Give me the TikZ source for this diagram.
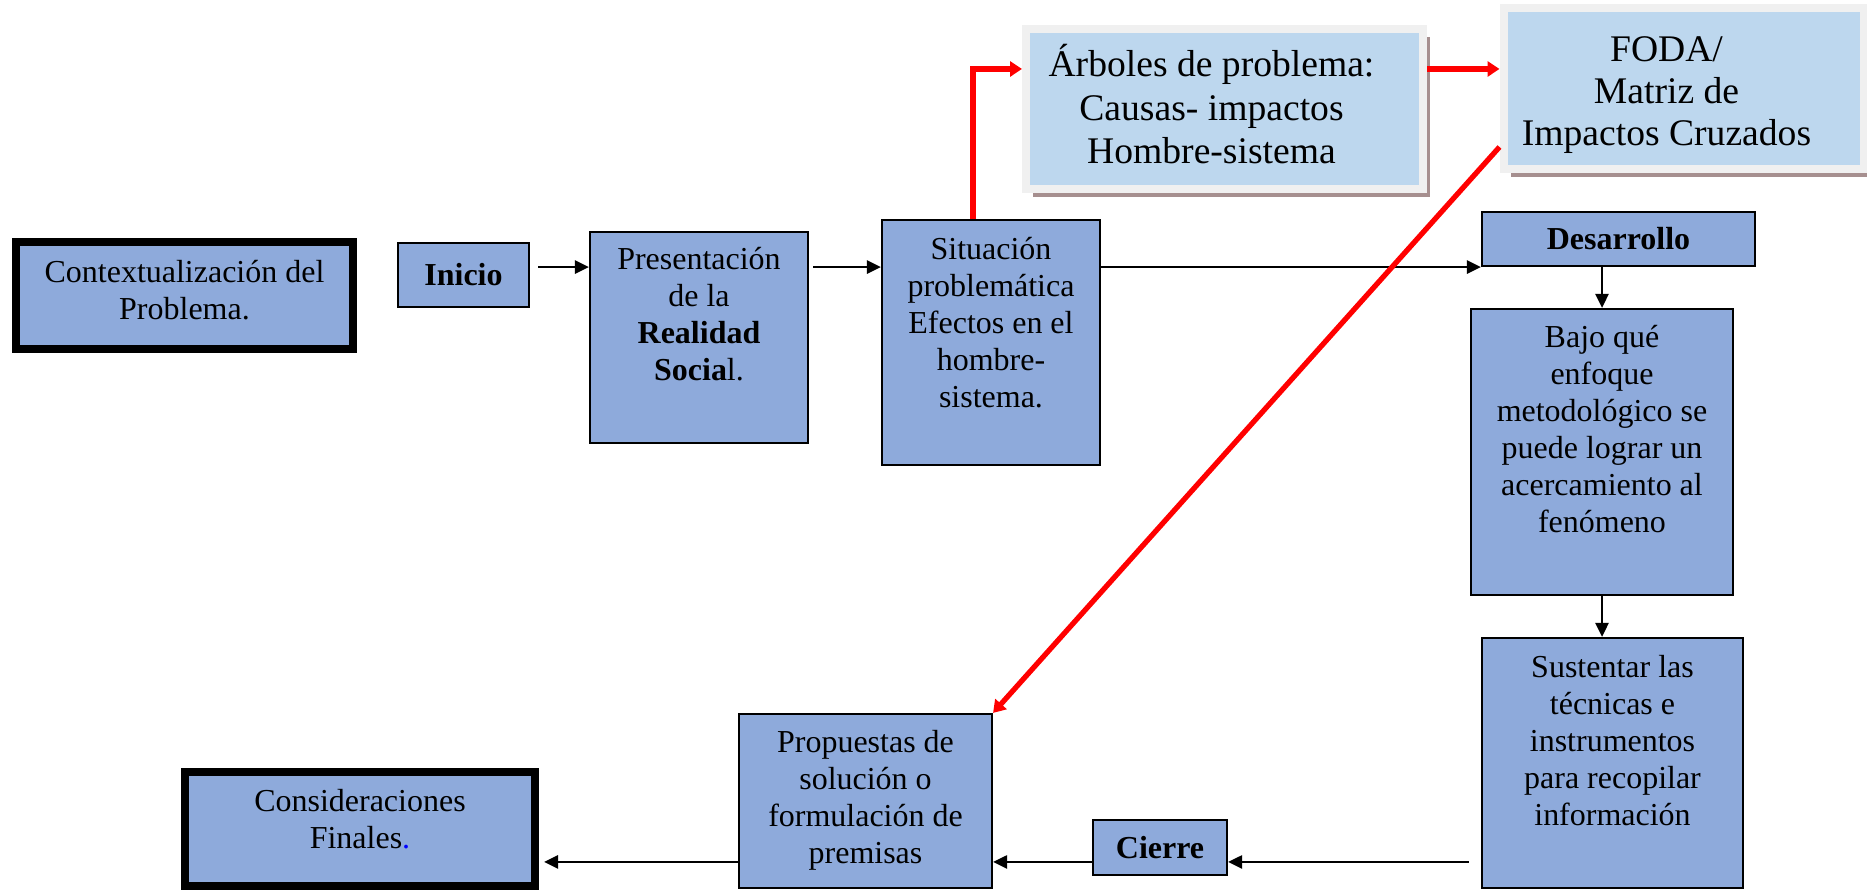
\documentclass[tikz,border=0pt]{standalone}
\usepackage{fontspec}
\setmainfont{Liberation Serif}
\usepackage{tikz}
\usetikzlibrary{arrows.meta,shadows}

\definecolor{cajaazul}{HTML}{8EAADB}
\definecolor{cajaclara}{HTML}{BDD7EE}
\definecolor{marco}{HTML}{F0F0F0}
\definecolor{sombra}{HTML}{A68F8F}

% texto arriba dentro de la caja: [primera linea]{ancho}{alto}{texto}
\newcommand{\txtcaja}[4][0.40cm]{\parbox[c][#3][t]{#2}{\centering\rule{0pt}{#1}#4}}

\tikzset{
  caja/.style={draw, fill=cajaazul, line width=0.6pt, inner sep=0pt, align=center,
    font=\fontsize{9.1}{10.5}\selectfont},
  etapa/.style={caja, font=\fontsize{9.1}{10.5}\selectfont\bfseries},
  nube/.style={draw=marco, fill=cajaclara, line width=0.08cm, inner sep=0pt,
    font=\fontsize{10.7}{12.3}\selectfont,
    drop shadow={shadow xshift=0.07cm, shadow yshift=-0.08cm, fill=sombra, opacity=1}},
  flecha/.style={line width=0.75pt, -{Triangle[length=0.14cm,width=0.13cm]}},
  rojo/.style={red, line width=1.5pt, -{Triangle[length=0.12cm,width=0.15cm]}}
}

\begin{document}
\begin{tikzpicture}
  \useasboundingbox (0,0) rectangle (18.67,8.90);

  % fila de arriba
  \node[caja, line width=2.3pt] (ctx) at (1.845,5.945)
    {\txtcaja[0.41cm]{3.37cm}{1.07cm}{Contextualización del\\Problema.}};
  \node[etapa, minimum width=1.31cm, minimum height=0.64cm] (ini) at (4.635,6.15) {Inicio};
  \node[caja] (pres) at (6.99,5.525)
    {\txtcaja[0.38cm]{2.18cm}{2.11cm}{Presentación\\de la\\\textbf{Realidad}\\\textbf{Socia}l.}};
  \node[caja] (sit) at (9.91,5.475)
    {\txtcaja{2.18cm}{2.45cm}{Situación\\problemática\\Efectos en el\\hombre-\\sistema.}};
  \node[etapa, minimum width=2.73cm, minimum height=0.54cm] (des) at (16.185,6.51) {Desarrollo};

  % cajas claras
  \node[nube] (arb) at (12.245,7.81)
    {\txtcaja[0.48cm]{3.97cm}{1.60cm}{\addtolength{\rightskip}{0.26cm}Árboles de problema:\\Causas- impactos\\Hombre-sistema}};
  \node[nube, font=\fontsize{10.7}{12}\selectfont] (foda) at (16.835,8.01)
    {\txtcaja[0.53cm]{3.60cm}{1.61cm}{\addtolength{\rightskip}{0.34cm}FODA/\\Matriz de\\Impactos Cruzados}};

  % columna derecha
  \node[caja] (baj) at (16.02,4.38)
    {\txtcaja[0.39cm]{2.62cm}{2.86cm}{Bajo qué\\enfoque\\metodológico se\\puede lograr un\\acercamiento al\\fenómeno}};
  \node[caja] (sus) at (16.125,1.27)
    {\txtcaja{2.61cm}{2.50cm}{Sustentar las\\técnicas e\\instrumentos\\para recopilar\\información}};

  % fila de abajo
  \node[etapa, minimum width=1.34cm, minimum height=0.55cm] (cie) at (11.60,0.425) {Cierre};
  \node[caja] (pro) at (8.655,0.89)
    {\txtcaja[0.39cm]{2.53cm}{1.74cm}{Propuestas de\\solución o\\formulación de\\premisas}};
  \node[caja, line width=2.3pt] (con) at (3.60,0.61)
    {\txtcaja{3.50cm}{1.14cm}{Consideraciones\\Finales\textcolor{blue}{.}}};

  \coordinate (abajo) at (0,0.28);
  \coordinate (arriba) at (0,8.21);

  % flechas negras
  \draw[flecha] ([xshift=0.08cm]ini.east |- des.south) -- (pres.west |- des.south);
  \draw[flecha] ([xshift=0.04cm]pres.east |- des.south) -- (sit.west |- des.south);
  \draw[flecha] (sit.east |- des.south) -- (des.south west);
  \draw[flecha] (des.south -| baj.north) -- (baj.north);
  \draw[flecha] (baj.south) -- (baj.south |- sus.north);
  \draw[flecha] ([xshift=-0.12cm]sus.west |- abajo) -- (cie.east |- abajo);
  \draw[flecha] (cie.west |- abajo) -- (pro.east |- abajo);
  \draw[flecha] (pro.west |- abajo) -- ([xshift=0.05cm]con.east |- abajo);

  % flechas rojas
  \draw[rojo] ([xshift=-0.18cm]sit.north) |- (arb.west |- arriba);
  \draw[rojo] (arb.east |- arriba) -- (foda.west |- arriba);
  \draw[rojo] ([yshift=-0.58cm]foda.west) -- (pro.north east);
\end{tikzpicture}
\end{document}
